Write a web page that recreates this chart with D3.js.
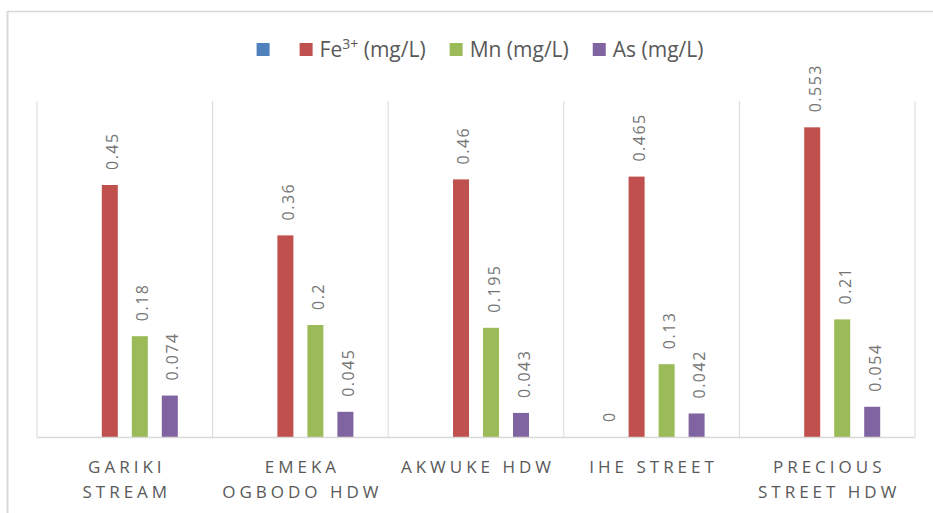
<!DOCTYPE html>
<html>
<head>
<meta charset="utf-8">
<script src="https://cdn.jsdelivr.net/npm/d3@7"></script>
<style>
  html, body { margin: 0; padding: 0; background: #fff; }
  svg { display: block; }
</style>
</head>
<body>
<svg id="chart" width="933" height="513"></svg>
<script>
// Sampling sites along the category axis
const categories = ["GARIKI STREAM", "EMEKA OGBODO HDW", "AKWUKE HDW", "IHE STREET", "PRECIOUS STREET HDW"];
// Wrapped category labels (two lines where needed)
const categoryLines = [["GARIKI", "STREAM"], ["EMEKA", "OGBODO HDW"], ["AKWUKE HDW"], ["IHE STREET"], ["PRECIOUS", "STREET HDW"]];

// Series names (base text + superscript part) and colours
const seriesNames = ["", "Fe", "Mn (mg/L)", "As (mg/L)"];
const seriesSup = ["", "3+", "", ""];
const seriesTail = ["", " (mg/L)", "", ""];
const seriesColors = ["#4f81bd", "#c0504d", "#9bbb59", "#8064a2"];

// Series values per site (null = no value)
const blankValues = [null, null, null, 0, null];
const feValues = [0.45, 0.36, 0.46, 0.465, 0.553];
const mnValues = [0.18, 0.2, 0.195, 0.13, 0.21];
const asValues = [0.074, 0.045, 0.043, 0.042, 0.054];
const seriesValues = [blankValues, feValues, mnValues, asValues];

const yMax = 0.6;

const svg = d3.select("#chart");
const W = 933, H = 513;
const plot = { left: 37, right: 915, top: 101, bottom: 437 };

// Outer chart frame
const frame = svg.append("g");
frame.append("line").attr("x1", 7.5).attr("x2", W).attr("y1", 11.5).attr("y2", 11.5)
  .attr("stroke", "#d9d9d9").attr("stroke-width", 1.5);
frame.append("line").attr("x1", 7.5).attr("x2", 7.5).attr("y1", 11).attr("y2", H)
  .attr("stroke", "#d9d9d9").attr("stroke-width", 2);

const x0 = d3.scaleBand().domain(categories).range([plot.left, plot.right]).padding(0);
const innerW = 120;
const x1 = d3.scaleBand().domain(d3.range(seriesNames.length))
  .range([0, innerW]).paddingInner(0.4667).paddingOuter(0.2333);
const y = d3.scaleLinear().domain([0, yMax]).range([plot.bottom, plot.top]);

// Category gridlines (dividers between sites)
const dividers = categories.map(c => x0(c)).concat([x0.range()[1]]);
svg.append("g").selectAll("line").data(dividers).join("line")
  .attr("x1", d => d).attr("x2", d => d)
  .attr("y1", plot.top).attr("y2", plot.bottom)
  .attr("stroke", "#d9d9d9").attr("stroke-width", 1);

// Bars
const offset = (x0.bandwidth() - innerW) / 2;
const groups = svg.append("g").selectAll("g").data(categories).join("g")
  .attr("transform", c => `translate(${x0(c) + offset},0)`);

const cells = groups.selectAll("g.cell")
  .data((c, ci) => seriesValues.map((vals, si) => ({ si, v: vals[ci] })).filter(d => d.v !== null))
  .join("g").attr("class", "cell");

cells.append("rect")
  .attr("x", d => x1(d.si))
  .attr("width", x1.bandwidth())
  .attr("y", d => y(d.v))
  .attr("height", d => y(0) - y(d.v))
  .attr("fill", d => seriesColors[d.si]);

// Value labels, rotated, above each bar
cells.append("text")
  .attr("transform", d => `translate(${x1(d.si) + x1.bandwidth() / 2 + 8.5},${y(d.v) - 15}) rotate(-90)`)
  .attr("text-anchor", "start")
  .attr("font-family", "'Open Sans', sans-serif")
  .attr("font-size", 16)
  .attr("letter-spacing", 1.5)
  .attr("fill", "#767676")
  .text(d => String(d.v));

// Baseline axis
svg.append("line").attr("x1", plot.left).attr("x2", plot.right)
  .attr("y1", plot.bottom + 0.5).attr("y2", plot.bottom + 0.5)
  .attr("stroke", "#d9d9d9").attr("stroke-width", 1.5);

// Category labels
const catLabels = svg.append("g").selectAll("text").data(categories).join("text")
  .attr("text-anchor", "middle")
  .attr("font-family", "'Open Sans', sans-serif")
  .attr("font-size", 17)
  .attr("letter-spacing", 4)
  .attr("fill", "#595959");
catLabels.each(function(c, i) {
  const t = d3.select(this);
  categoryLines[i].forEach((line, li) => {
    t.append("tspan")
      .attr("x", x0(c) + x0.bandwidth() / 2 + 2)
      .attr("y", 473 + li * 25)
      .text(line);
  });
});

// Legend
const legend = svg.append("g");
const legendItems = legend.selectAll("g").data(seriesNames).join("g");
legendItems.append("rect").attr("width", 13).attr("height", 13).attr("y", 43)
  .attr("fill", (d, i) => seriesColors[i]);
const legendText = legendItems.append("text").attr("x", 20).attr("y", 57)
  .attr("font-family", "'Open Sans', sans-serif")
  .attr("font-size", 21)
  .attr("fill", "#595959");
legendText.each(function(d, i) {
  const t = d3.select(this);
  if (!d) return;
  t.append("tspan").text(d);
  if (seriesSup[i]) {
    t.append("tspan").attr("font-size", 14).attr("dy", -8).text(seriesSup[i]);
    t.append("tspan").attr("dy", 8).text(seriesTail[i]);
  }
});
let cursor = 0;
legendItems.each(function(d) {
  const g = d3.select(this);
  const tw = d ? g.select("text").node().getComputedTextLength() : 0;
  g.attr("transform", `translate(${cursor},0)`);
  cursor += d ? 20 + tw + 24 : 43;
});
const legendWidth = cursor - 24;
legend.attr("transform", `translate(${480 - legendWidth / 2},0)`);
</script>
</body>
</html>
